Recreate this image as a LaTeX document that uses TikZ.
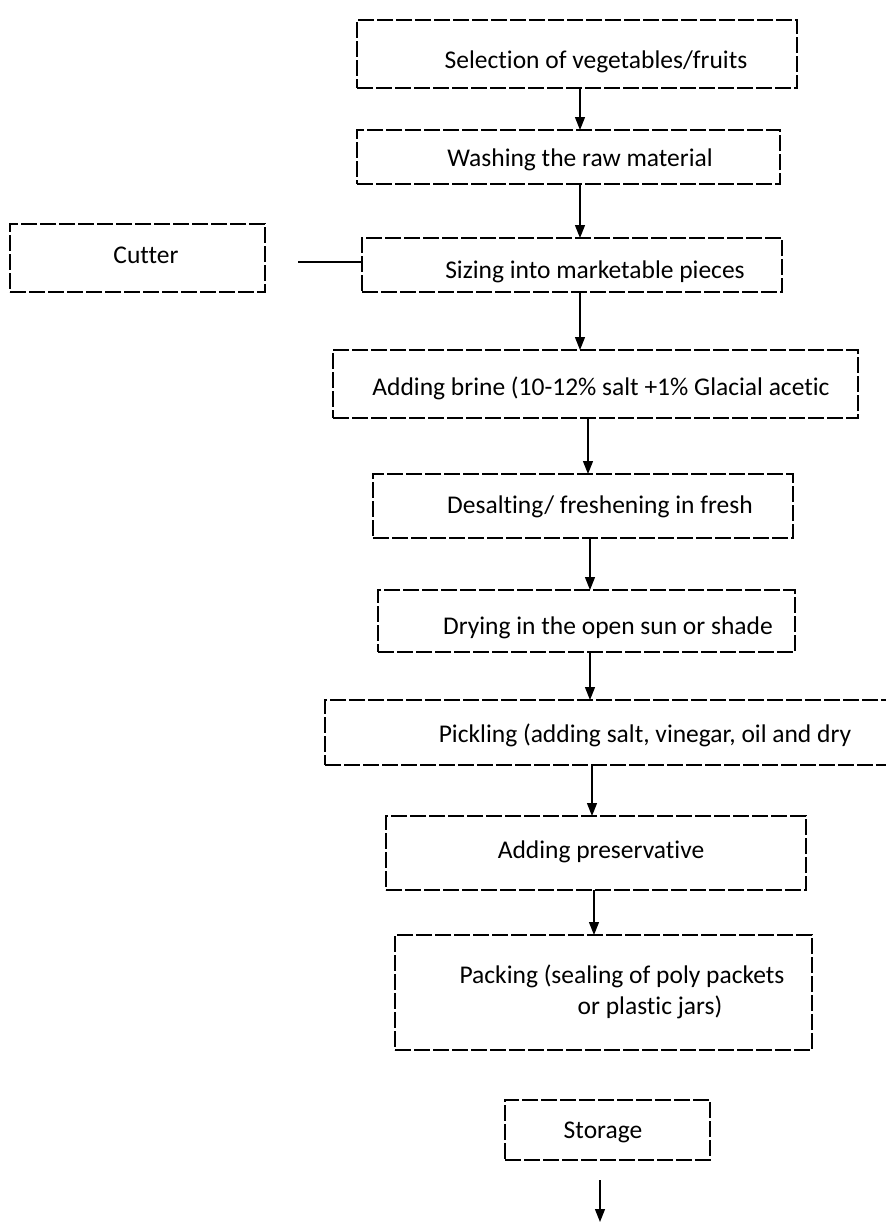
\documentclass[tikz,border=0pt]{standalone}
\usepackage{fontspec}
\setmainfont{Carlito}[Ligatures=NoCommon]
\usepackage{tikz}
\usetikzlibrary{arrows.meta}

\tikzset{
  stepbox/.style={draw, line width=1.1pt, dash pattern=on 16pt off 3pt, rectangle, inner sep=0pt, outer sep=0pt},
  steptext/.style={inner sep=0pt, font=\fontsize{25.5}{31}\selectfont, align=center},
  flow/.style={line width=1.3pt, -{Triangle[length=13pt,width=10pt]}},
  link/.style={line width=1.1pt}
}

\begin{document}
\begin{tikzpicture}[x=1pt,y=-1pt]
\useasboundingbox (0,0) rectangle (886,1226);

% Boxes
\node[stepbox, minimum width=440, minimum height=68] (select) at (577,54) {};
\node[stepbox, minimum width=423, minimum height=54] (wash) at (568.5,157) {};
\node[stepbox, minimum width=255, minimum height=68] (cutter) at (137.5,258) {};
\node[stepbox, minimum width=420, minimum height=54] (size) at (572,265) {};
\node[stepbox, minimum width=525, minimum height=68] (brine) at (595.5,384) {};
\node[stepbox, minimum width=420, minimum height=64] (desalt) at (583,506) {};
\node[stepbox, minimum width=417, minimum height=62] (dry) at (586.5,621) {};
\node[stepbox, minimum width=567, minimum height=65] (pickle) at (608.5,732.5) {};
\node[stepbox, minimum width=420, minimum height=74] (preserve) at (596,853) {};
\node[stepbox, minimum width=417, minimum height=115] (pack) at (603.5,992.5) {};
\node[stepbox, minimum width=205, minimum height=60] (storage) at (607.5,1130) {};

% Text Node
\node[steptext] (select-txt) at (596,62) {Selection of vegetables/fruits};
\node[steptext] (wash-txt) at (580,160) {Washing the raw material};
\node[steptext] (cutter-txt) at (146,255) {Cutter};
\node[steptext] (size-txt) at (595,272) {Sizing into marketable pieces};
\node[steptext] (brine-txt) at (601,388) {Adding brine (10-12\% salt +1\% Glacial acetic};
\node[steptext] (desalt-txt) at (600,507) {Desalting/ freshening in fresh};
\node[steptext] (dry-txt) at (608,628) {Drying in the open sun or shade};
\node[steptext] (pickle-txt) at (645,735) {Pickling (adding salt, vinegar, oil and dry};
\node[steptext] (preserve-txt) at (601,852) {Adding preservative};
\node[steptext] (pack-txt) at (622,992) {Packing (sealing of poly packets\\\hspace*{2.2em}or plastic jars)};
\node[steptext] (storage-txt) at (603,1132) {Storage};

% Straight Lines
\draw[flow] ([xshift=3]select.south) -- ([xshift=3]select.south |- wash.north);
\draw[flow] ([xshift=11.5]wash.south) -- ([xshift=11.5]wash.south |- size.north);
\draw[flow] ([xshift=8]size.south) -- ([xshift=8]size.south |- brine.north);
\draw[flow] ([xshift=-7.5]brine.south) -- ([xshift=-7.5]brine.south |- desalt.north);
\draw[flow] ([xshift=7]desalt.south) -- ([xshift=7]desalt.south |- dry.north);
\draw[flow] ([xshift=3.5]dry.south) -- ([xshift=3.5]dry.south |- pickle.north);
\draw[flow] ([xshift=-16.5]pickle.south) -- ([xshift=-16.5]pickle.south |- preserve.north);
\draw[flow] ([xshift=-2]preserve.south) -- ([xshift=-2]preserve.south |- pack.north);

% free ends
\coordinate (cut-end) at (298,262);
\coordinate (stor-end) at (600,1222);
\draw[link] (cut-end) -- (cut-end -| size.west);
\draw[flow] ([yshift=-20]stor-end |- storage.south) -- (stor-end);

\end{tikzpicture}
\end{document}
